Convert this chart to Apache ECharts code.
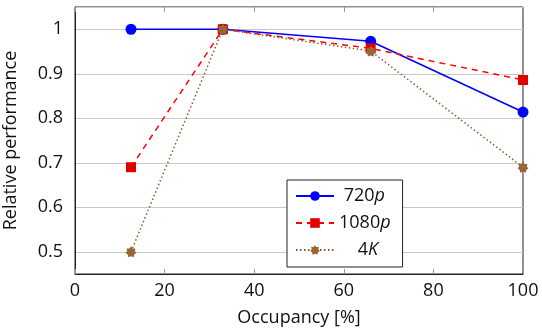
<!DOCTYPE html>
<html lang="en">
<head>
    <meta charset="UTF-8">
    <title>Relative performance</title>
    <style>
        body { margin: 0; background: #fff; }
        #box { width: 542px; height: 328px; }
    </style>
</head>
<body>
    <div id="box"></div>
</body>
<script src="https://cdn.jsdelivr.net/npm/echarts@6/dist/echarts.min.js"></script>
<script>
    var occupancy = [12.5, 33, 66, 100];
    var perf720 = [1.0, 1.0, 0.973, 0.814];
    var perf1080 = [0.69, 1.0, 0.957, 0.886];
    var perf4k = [0.5, 1.0, 0.951, 0.69];
    var yTicks = [0.5, 0.6, 0.7, 0.8, 0.9, 1];

    function pairs(ys) {
        return occupancy.map(function (x, i) { return [x, ys[i]]; });
    }

    var font = '"Open Sans", "DejaVu Sans", sans-serif';
    var box = echarts.init(document.getElementById('box'));

    var option = {
        backgroundColor: '#fff',
        animation: false,
        textStyle: { fontFamily: font },
        grid: {
            left: 75, right: 19, top: 7, bottom: 54,
            outerBoundsMode: 'none',
            containLabel: false,
            show: true, borderColor: '#222', borderWidth: 1
        },
        legend: {
            orient: 'vertical',
            left: 287, top: 180,
            padding: [7, 12, 8, 8],
            itemGap: 9,
            itemWidth: 38, itemHeight: 12,
            borderColor: '#222', borderWidth: 1,
            backgroundColor: '#fff',
            textStyle: {
                fontFamily: font, fontSize: 18, color: '#111',
                rich: {
                    n: { fontFamily: font, fontSize: 18, color: '#111' },
                    i: { fontFamily: font, fontSize: 18, color: '#111', fontStyle: 'italic' }
                }
            },
            formatter: function (name) {
                if (name === '720p') return ' {n|720}{i|p}';
                if (name === '1080p') return '{n|1080}{i|p}';
                return '    {n|4}{i|K}';
            },
            data: ['720p', '1080p', '4K']
        },
        xAxis: [{
            type: 'value', min: 0, max: 100, interval: 20,
            position: 'bottom',
            axisLine: { lineStyle: { color: '#222' } },
            axisTick: { inside: true, length: 5, lineStyle: { color: '#999' } },
            axisLabel: { fontSize: 18, color: '#111', margin: 8 },
            splitLine: { show: false },
            name: 'Occupancy [%]', nameLocation: 'middle', nameGap: 35,
            nameTextStyle: { fontSize: 18, color: '#111' }
        }, {
            type: 'value', min: 0, max: 100, interval: 20,
            position: 'top',
            axisLine: { show: false },
            axisTick: { inside: true, length: 5, lineStyle: { color: '#999' } },
            axisLabel: { show: false },
            splitLine: { show: false }
        }],
        yAxis: {
            type: 'value', min: 0.45, max: 1.05,
            axisLine: { lineStyle: { color: '#222' } },
            axisTick: { show: false },
            axisLabel: {
                fontSize: 18, color: '#111', margin: 12,
                customValues: yTicks,
                formatter: function (v) { return String(Math.round(v * 10) / 10); }
            },
            splitLine: { show: true, lineStyle: { color: '#c8c8c8', width: 1 } },
            splitNumber: 6,
            name: 'Relative performance', nameLocation: 'middle', nameGap: 55,
            nameTextStyle: { fontSize: 18, color: '#111' }
        },
        series: [{
            name: '720p', type: 'line', data: pairs(perf720),
            symbol: 'circle', symbolSize: 11,
            lineStyle: { color: '#0000ff', width: 1.5 },
            itemStyle: { color: '#0000ff' }
        }, {
            name: '1080p', type: 'line', data: pairs(perf1080),
            symbol: 'rect', symbolSize: 10,
            lineStyle: { color: '#ff0000', width: 1.5, type: [6, 5] },
            itemStyle: { color: '#e00000' }
        }, {
            name: '4K', type: 'line', data: pairs(perf4k),
            symbol: 'path://M0,-10 L3,-6 L8,-6 L7,-1 L10,2 L6,5 L5,10 L0,8 L-5,10 L-6,5 L-10,2 L-7,-1 L-8,-6 L-3,-6 Z',
            symbolSize: 11,
            lineStyle: { color: '#8b5a2b', width: 1.5, type: [1.5, 2.5] },
            itemStyle: { color: '#9a6633' }
        }]
    };
    box.setOption(option);
</script>
</html>
